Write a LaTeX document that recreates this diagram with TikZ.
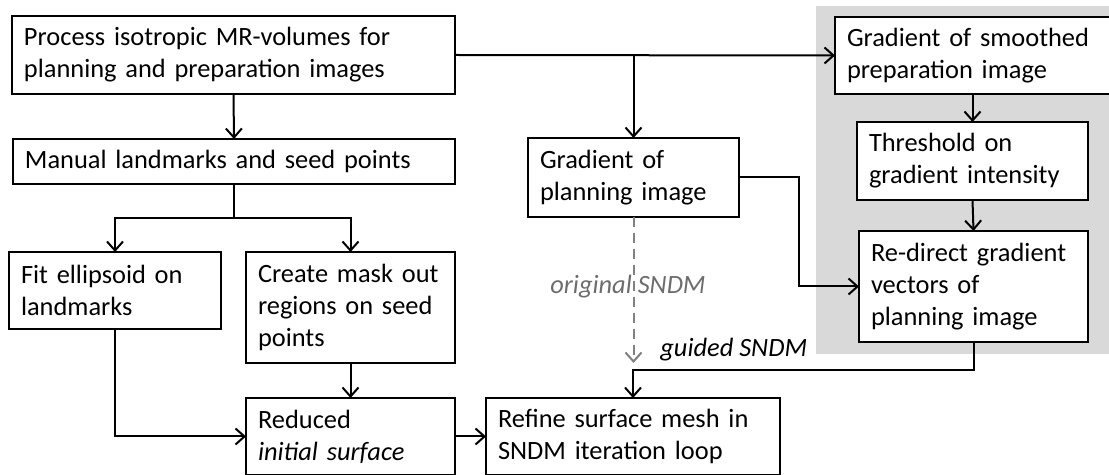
\documentclass[tikz,border=0pt]{standalone}
\usepackage{fontspec}
\setmainfont{Carlito}
\usepackage{tikz}
\usetikzlibrary{arrows.meta}
\definecolor{panelgray}{RGB}{217,217,217}
\definecolor{sndmgray}{RGB}{128,128,128}

\tikzset{
  box/.style={draw, line width=0.6pt, fill=white, anchor=north west,
    align=left, inner xsep=6pt, inner ysep=0pt, outer sep=0pt,
    font=\fontsize{13.2pt}{16pt}\selectfont},
  flow/.style={line width=1pt, -{Straight Barb[length=4.5pt,width=8pt]}}
}

\begin{document}
\begin{tikzpicture}[x=0.5pt, y=-0.5pt]
          \useasboundingbox (0,0) rectangle (1109,475);
          \fill[panelgray] (816,6) rectangle (1112,354);

          \node[box, text width=209.5pt, minimum height=39pt] (process) at (12,16)
                {Process isotropic MR-volumes for\\planning and preparation images};
          \node[box, text width=209pt, minimum height=22.5pt] (manual) at (13,139)
                {Manual landmarks and seed points};
          \node[box, text width=94pt, minimum height=38.5pt] (fit) at (9,252)
                {Fit ellipsoid on\\landmarks};
          \node[box, text width=92.5pt, minimum height=55.5pt] (mask) at (246,252)
                {Create mask out\\regions on seed\\points};
          \node[box, text width=92.5pt, minimum height=38.5pt] (reduced) at (246,398)
                {Reduced\\\textit{initial surface}};
          \node[box, text width=135pt, minimum height=38.5pt] (refine) at (486,398)
                {Refine surface mesh in\\SNDM iteration loop};
          \node[box, line width=1pt, text width=93.5pt, minimum height=39.5pt] (gradplan) at (528,138)
                {Gradient of\\planning image};
          \node[box, text width=125.5pt, minimum height=38.5pt] (smoothed) at (835,17)
                {Gradient of smoothed\\preparation image};
          \node[box, text width=103.5pt, minimum height=39pt] (threshold) at (857,122)
                {Threshold on\\gradient intensity};
          \node[box, text width=102.5pt, minimum height=55.5pt] (redirect) at (859,231)
                {Re-direct gradient\\vectors of\\planning image};

          % Draw the edges
          \draw[flow] (process.south) -- (manual.north);
          \draw[flow] (process.east) -- (smoothed.west);
          \draw[flow] (process.east -| gradplan.north) -- (gradplan.north);
          \draw[line width=1pt] (manual.south) -- ++(0,34) coordinate (split);
          \draw[flow] (split) -| (fit.north);
          \draw[flow] (split) -| (mask.north);
          \draw[flow] (fit.south) |- (reduced.west);
          \draw[flow] (mask.south) -- (reduced.north);
          \draw[flow] (reduced.east) -- (refine.west);
          \draw[flow] (gradplan.east) -- ++(60,0) |- (redirect.west);
          \draw[flow] (smoothed.south) -- (threshold.north);
          \draw[flow] (threshold.south) -- (redirect.north);
          \draw[flow] (redirect.south) -- ++(0,28) -| (refine.north);
          \draw[flow, sndmgray, dash pattern=on 5pt off 3pt] (gradplan.south) -- ++(0,146);
          \node[font=\fontsize{13.2pt}{16pt}\selectfont\itshape, text=sndmgray!85!black] (orig) at (628,287) {original SNDM};
          \node[font=\fontsize{13.2pt}{16pt}\selectfont\itshape, anchor=base west, inner sep=0pt] (guided) at (660,357) {guided SNDM};
      \end{tikzpicture}
\end{document}
